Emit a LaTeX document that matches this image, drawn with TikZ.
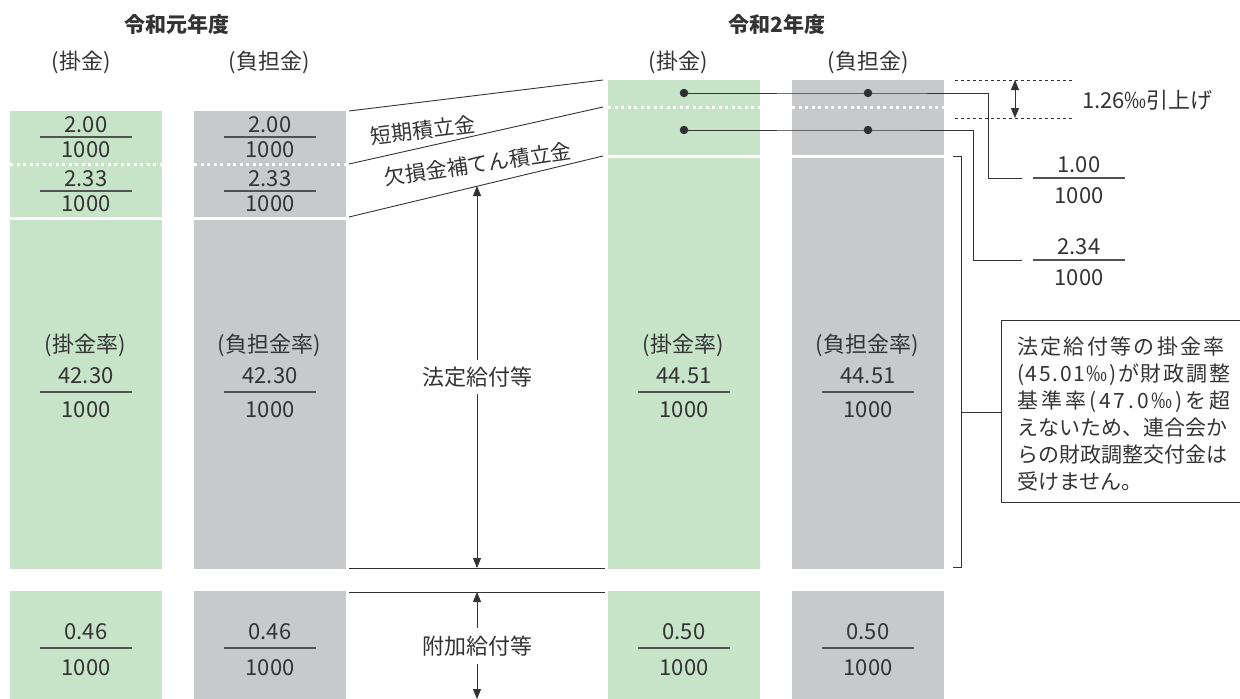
\documentclass[tikz,border=0pt]{standalone}
\usepackage{fontspec}
\setmainfont{Noto Sans CJK JP}
\usetikzlibrary{arrows.meta}

\definecolor{kakegreen}{HTML}{C7E4C8}
\definecolor{futangray}{HTML}{C8C9CB}
\definecolor{inkgray}{HTML}{333333}

\tikzset{
  lbl/.style={text=inkgray,font=\fontsize{22}{26}\selectfont,inner sep=0pt},
  head/.style={lbl,font=\fontsize{21}{25}\selectfont\bfseries},
  kake/.style={fill=kakegreen},
  futan/.style={fill=futangray},
  sepdot/.style={draw=white,line width=3pt,dash pattern=on 3pt off 3.5pt},
  sepline/.style={draw=white,line width=3pt},
  rule/.style={draw=inkgray,line width=0.9pt},
  fracbar/.style={draw=inkgray!85,line width=1.3pt},
  arr/.style={rule,-{Triangle[width=8pt,length=10pt]}},
  knot/.style={circle,fill=inkgray!90!black,inner sep=0pt,minimum size=8.5pt},
}

% numerator over 1000, bar centred at (x,y); #5/#6 = offsets up/down
\newcommand{\ratefrac}[6]{%
  \node[lbl] (#4n) at (#1,#2-#5) {#3};
  \draw[fracbar] (#1-46,#2) -- (#1+46,#2);
  \node[lbl] (#4d) at (#1,#2+#6) {1000};
}

\begin{document}
\begin{tikzpicture}[x=1pt,y=-1pt]
  \useasboundingbox (0,0) rectangle (1240,699);

  % headings
  \node[head] (year1) at (177,25) {令和元年度};
  \node[head] (year2) at (777,25) {令和2年度};
  \node[lbl] (kake1) at (81,62) {(掛金)};
  \node[lbl] (futan1) at (269,62) {(負担金)};
  \node[lbl] (kake2) at (678,62) {(掛金)};
  \node[lbl] (futan2) at (868,62) {(負担金)};

  % columns
  \fill[kake] (10,111) rectangle (162,569);
  \fill[kake] (10,591) rectangle (162,699);
  \fill[futan] (194,111) rectangle (346,569);
  \fill[futan] (194,591) rectangle (346,699);
  \fill[kake] (608,80) rectangle (760,569);
  \fill[kake] (608,591) rectangle (760,699);
  \fill[futan] (792,80) rectangle (944,569);
  \fill[futan] (792,591) rectangle (944,699);

  \foreach \x in {10,194} {
    \draw[sepdot] (\x,164) -- ++(152,0);
    \draw[sepline] (\x,218) -- ++(152,0);
  }
  \foreach \x in {608,792} {
    \draw[sepdot] (\x,107) -- ++(152,0);
    \draw[sepline] (\x,156) -- ++(152,0);
  }

  % rates, first year
  \ratefrac{86}{137}{2.00}{ka}{12.5}{12.5}
  \ratefrac{86}{191}{2.33}{kb}{12.5}{12.5}
  \node[lbl] (kr1) at (85,345) {(掛金率)};
  \ratefrac{86}{392}{42.30}{kc}{16.5}{18}
  \ratefrac{86}{648}{0.46}{kd}{16.5}{20}
  \ratefrac{270}{137}{2.00}{fa}{12.5}{12.5}
  \ratefrac{270}{191}{2.33}{fb}{12.5}{12.5}
  \node[lbl] (fr1) at (269,345) {(負担金率)};
  \ratefrac{270}{392}{42.30}{fc}{16.5}{18}
  \ratefrac{270}{648}{0.46}{fd}{16.5}{20}

  % rates, second year
  \node[lbl] (kr2) at (683,345) {(掛金率)};
  \ratefrac{684}{392}{44.51}{kg}{16.5}{18}
  \ratefrac{684}{648}{0.50}{kh}{16.5}{20}
  \node[lbl] (fr2) at (867,345) {(負担金率)};
  \ratefrac{868}{392}{44.51}{fg}{16.5}{18}
  \ratefrac{868}{648}{0.50}{fh}{16.5}{20}

  % middle labels
  \coordinate (la1) at (349,111); \coordinate (ra1) at (603,80);
  \coordinate (la2) at (349,164); \coordinate (ra2) at (603,107);
  \coordinate (la3) at (349,217); \coordinate (ra3) at (603,156);
  \draw[rule] (la1) -- (ra1);
  \draw[rule] (la2) -- (ra2);
  \draw[rule] (la3) -- (ra3);
  \node[lbl,font=\fontsize{21}{25}\selectfont,rotate=7] (tanki) at (423,130) {短期積立金};
  \node[lbl,font=\fontsize{21}{25}\selectfont,rotate=8.5] (kesson) at (478,164) {欠損金補てん積立金};

  \coordinate (lb1) at (349,568); \coordinate (rb1) at (605,568);
  \coordinate (lb2) at (349,592); \coordinate (rb2) at (605,592);
  \draw[rule] (lb1) -- (rb1);
  \draw[rule] (lb2) -- (rb2);

  \node[lbl,inner sep=7pt] (hotei) at (477,377) {法定給付等};
  \coordinate (hoteitop) at (477,186);
  \coordinate (hoteibot) at (477,568);
  \draw[arr] (hotei) -- (hoteitop);
  \draw[arr] (hotei) -- (hoteibot);

  \node[lbl,inner sep=8pt] (fuka) at (477,646) {附加給付等};
  \coordinate (fukatop) at (477,592);
  \coordinate (fukabot) at (477,699);
  \draw[arr] (fuka) -- (fukatop);
  \draw[arr] (fuka) -- (fukabot);

  % increase marks
  \draw[rule,line width=0.7pt,dash pattern=on 3pt off 3pt] (955,80) -- (1073,80);
  \draw[rule,line width=0.7pt,dash pattern=on 3pt off 3pt] (955,118) -- (1073,118);
  \coordinate (uptop) at (1015,80);
  \coordinate (upbot) at (1015,118);
  \draw[rule,{Triangle[width=8pt,length=10pt]}-{Triangle[width=8pt,length=10pt]}] (uptop) -- (upbot);
  \node[lbl,anchor=west] (hikiage) at (1082,100) {1.26‰引上げ};

  % leaders to the new rates
  \node[knot] (p1) at (684,93) {};
  \node[knot] (p2) at (868,93) {};
  \node[knot] (p3) at (684,130) {};
  \node[knot] (p4) at (868,130) {};
  \ratefrac{1079}{178}{1.00}{na}{13.5}{18}
  \ratefrac{1079}{260}{2.34}{nb}{13.5}{18}
  \coordinate (e1) at (1022,178);
  \coordinate (e2) at (1022,260);
  \draw[rule] (p1.center) -- (p2.center) -- (988,93) |- (e1);
  \draw[rule] (p3.center) -- (p4.center) -- (973,130) |- (e2);

  % note
  \draw[rule] (953,156) -- (961,156) -- (961,567) -- (953,567);
  \draw[rule] (1241,320) -- (1001,320) -- (1001,502) -- (1241,502);
  \coordinate (memoin) at (1001,412);
  \draw[rule] (961,412) -- (memoin);
  \node[lbl,anchor=west,align=left,font=\fontsize{21}{27}\selectfont] (memo) at (1017,414) {
    {\addfontfeature{LetterSpace=11}法定給付等の掛金率}\\
    {\addfontfeature{LetterSpace=8}(45.01‰)が財政調整}\\
    {\addfontfeature{LetterSpace=14}基準率(47.0‰)を超}\\
    えないため、連合会か\\
    らの財政調整交付金は\\
    受けません。};
\end{tikzpicture}
\end{document}
